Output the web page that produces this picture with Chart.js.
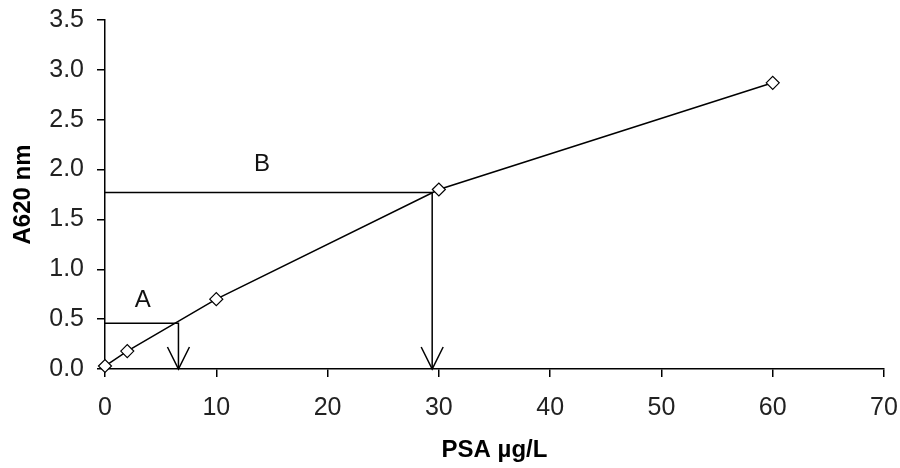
<!DOCTYPE html>
<html>
<head>
<meta charset="utf-8">
<script src="https://cdn.jsdelivr.net/npm/chart.js@4"></script>
<style>
  html, body { margin: 0; padding: 0; background: #fff; }
  #wrap { width: 900px; height: 468px; }
</style>
</head>
<body>
<div id="wrap"><canvas id="psaChart" width="900" height="468"></canvas></div>
<script>
// standard curve
const psa = [0, 2, 10, 30, 60];
const absorbance = [0.03, 0.18, 0.70, 1.80, 2.87];

// read-off guides: [x, y] where the guide meets the curve
const readA = [6.6, 0.46];
const readB = [29.4, 1.77];

// guide labels: text and [x, y] centre
const guideNames = ['A', 'B'];
const labelA = [3.4, 0.69];
const labelB = [14.1, 2.05];

const xTicks = [0, 10, 20, 30, 40, 50, 60, 70];
const yTicks = [0, 0.5, 1, 1.5, 2, 2.5, 3, 3.5];

const FONT = "'Liberation Sans', Arial, sans-serif";

function guidePoints(p) {
  return [{ x: 0, y: p[1] }, { x: p[0], y: p[1] }, { x: p[0], y: 0 }];
}

// open arrowheads at the foot of the guides + A/B labels
const guideExtras = {
  id: 'guideExtras',
  afterDatasetsDraw(chart) {
    const { ctx, scales } = chart;
    const sx = scales.x, sy = scales.y;
    ctx.save();
    ctx.strokeStyle = '#000';
    ctx.lineWidth = 1.5;
    [readA, readB].forEach(p => {
      const tx = sx.getPixelForValue(p[0]);
      const ty = sy.getPixelForValue(0);
      ctx.beginPath();
      ctx.moveTo(tx - 11, ty - 22);
      ctx.lineTo(tx, ty);
      ctx.lineTo(tx + 11, ty - 22);
      ctx.stroke();
    });
    ctx.fillStyle = '#111';
    ctx.font = '24px ' + FONT;
    ctx.textAlign = 'center';
    ctx.textBaseline = 'middle';
    [labelA, labelB].forEach((p, i) => {
      ctx.fillText(guideNames[i], sx.getPixelForValue(p[0]), sy.getPixelForValue(p[1]));
    });
    ctx.restore();
  }
};

new Chart(document.getElementById('psaChart'), {
  type: 'scatter',
  data: {
    datasets: [
      {
        data: psa.map((x, i) => ({ x, y: absorbance[i] })),
        showLine: true,
        borderColor: '#000',
        borderWidth: 1.5,
        pointStyle: 'rectRot',
        pointRadius: 6.5,
        pointBackgroundColor: '#fff',
        pointBorderColor: '#000',
        pointBorderWidth: 1.2,
        clip: false
      },
      {
        data: guidePoints(readA),
        showLine: true,
        borderColor: '#000',
        borderWidth: 1.5,
        pointRadius: 0
      },
      {
        data: guidePoints(readB),
        showLine: true,
        borderColor: '#000',
        borderWidth: 1.5,
        pointRadius: 0
      }
    ]
  },
  options: {
    responsive: false,
    animation: false,
    events: [],
    layout: { padding: { top: 20, right: 16, left: 0, bottom: 0 } },
    plugins: {
      legend: { display: false },
      tooltip: { enabled: false }
    },
    scales: {
      x: {
        type: 'linear',
        min: 0,
        max: 70,
        afterBuildTicks: s => { s.ticks = xTicks.map(v => ({ value: v })); },
        afterFit: s => { s.height = 99; s.paddingLeft = 0; s.paddingRight = 0; },
        border: { display: true, color: '#000', width: 1.5 },
        grid: { drawOnChartArea: false, drawTicks: true, tickLength: 8, color: '#000', lineWidth: 1.5 },
        ticks: { color: '#222', font: { family: FONT, size: 25 }, padding: 16, maxRotation: 0 },
        title: {
          display: true,
          text: 'PSA µg/L',
          color: '#000',
          font: { family: FONT, size: 24, weight: 'bold' },
          padding: { top: 0, bottom: 3 }
        }
      },
      y: {
        type: 'linear',
        min: 0,
        max: 3.5,
        afterBuildTicks: s => { s.ticks = yTicks.map(v => ({ value: v })); },
        afterFit: s => { s.width = 105; s.paddingTop = 0; s.paddingBottom = 0; },
        border: { display: true, color: '#000', width: 1.5 },
        grid: { drawOnChartArea: false, drawTicks: true, tickLength: 8, color: '#000', lineWidth: 1.5 },
        ticks: {
          color: '#222',
          font: { family: FONT, size: 25 },
          padding: 13,
          callback: v => v.toFixed(1)
        },
        title: {
          display: true,
          text: 'A620 nm',
          color: '#000',
          font: { family: FONT, size: 24, weight: 'bold' },
          padding: { top: 9, bottom: 0 }
        }
      }
    }
  },
  plugins: [guideExtras]
});
</script>
</body>
</html>
